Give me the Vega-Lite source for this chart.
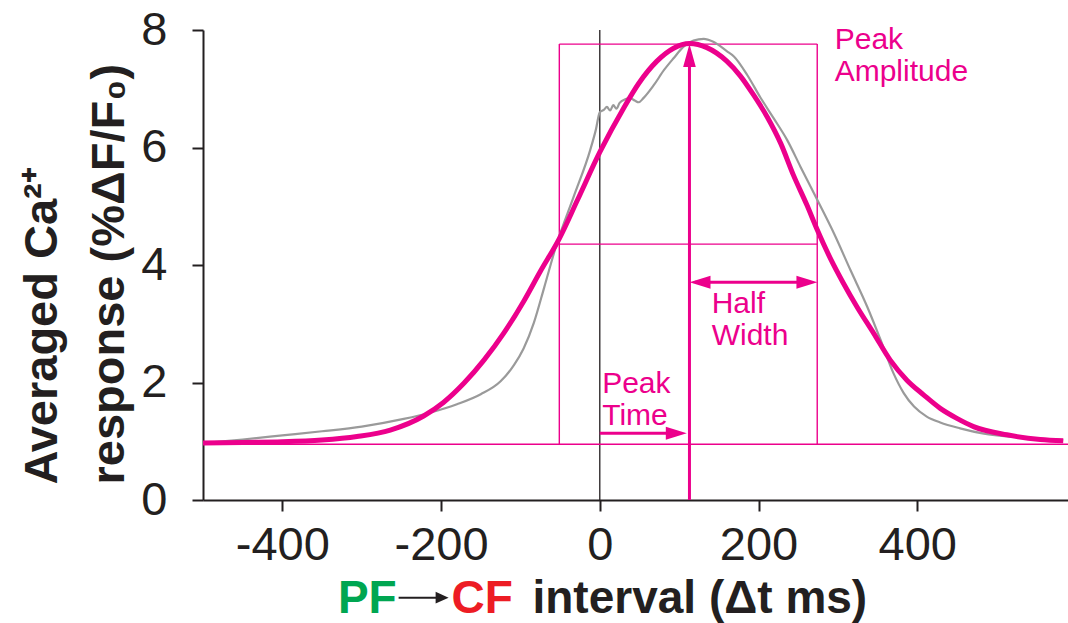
{
  "$schema": "https://vega.github.io/schema/vega-lite/v6.json",
  "width": 865,
  "height": 470,
  "autosize": {"type": "none"},
  "padding": {"left": 203, "top": 30, "right": 0, "bottom": 123},
  "background": "white",
  "config": {"view": {"stroke": null}, "font": "Liberation Sans"},
  "datasets": {
    "fit": [
      {"x": -500, "y": 0.97}, {"x": -450, "y": 0.98}, {"x": -400, "y": 0.99}, {"x": -350, "y": 1.02},
      {"x": -306, "y": 1.08}, {"x": -264, "y": 1.19}, {"x": -222, "y": 1.43}, {"x": -197, "y": 1.66},
      {"x": -171, "y": 1.99}, {"x": -146, "y": 2.38}, {"x": -121, "y": 2.84}, {"x": -96, "y": 3.38},
      {"x": -75, "y": 3.89}, {"x": -51, "y": 4.45}, {"x": -28, "y": 5.11}, {"x": 0, "y": 5.92},
      {"x": 30, "y": 6.67}, {"x": 49, "y": 7.09}, {"x": 72, "y": 7.47}, {"x": 93, "y": 7.69},
      {"x": 113, "y": 7.77}, {"x": 135, "y": 7.7}, {"x": 160, "y": 7.47}, {"x": 177, "y": 7.22},
      {"x": 194, "y": 6.89}, {"x": 211, "y": 6.52}, {"x": 228, "y": 6.07}, {"x": 244, "y": 5.53},
      {"x": 261, "y": 5.02}, {"x": 274, "y": 4.6}, {"x": 291, "y": 4.1}, {"x": 307, "y": 3.69},
      {"x": 324, "y": 3.29}, {"x": 345, "y": 2.84}, {"x": 366, "y": 2.38}, {"x": 387, "y": 2.04},
      {"x": 408, "y": 1.79}, {"x": 429, "y": 1.56}, {"x": 450, "y": 1.39}, {"x": 471, "y": 1.25},
      {"x": 513, "y": 1.11}, {"x": 555, "y": 1.03}, {"x": 584, "y": 1.01}
    ],
    "data": [
      {"x": -500, "y": 0.97}, {"x": -450, "y": 1.03}, {"x": -400, "y": 1.1}, {"x": -350, "y": 1.17},
      {"x": -300, "y": 1.25}, {"x": -247, "y": 1.38}, {"x": -213, "y": 1.49}, {"x": -180, "y": 1.63},
      {"x": -150, "y": 1.8}, {"x": -125, "y": 2.02}, {"x": -108, "y": 2.3}, {"x": -96, "y": 2.58},
      {"x": -83, "y": 3.02}, {"x": -70, "y": 3.62}, {"x": -54, "y": 4.37}, {"x": -33, "y": 5.16},
      {"x": -12, "y": 5.96}, {"x": -5, "y": 6.3}, {"x": 0, "y": 6.6}, {"x": 5, "y": 6.64},
      {"x": 9, "y": 6.69}, {"x": 13, "y": 6.63}, {"x": 17, "y": 6.72}, {"x": 21, "y": 6.66},
      {"x": 25, "y": 6.76}, {"x": 32, "y": 6.82}, {"x": 38, "y": 6.84}, {"x": 44, "y": 6.8},
      {"x": 49, "y": 6.77}, {"x": 55, "y": 6.84}, {"x": 68, "y": 7.06}, {"x": 81, "y": 7.32},
      {"x": 93, "y": 7.52}, {"x": 106, "y": 7.72}, {"x": 118, "y": 7.82}, {"x": 131, "y": 7.85},
      {"x": 143, "y": 7.8}, {"x": 160, "y": 7.64}, {"x": 169, "y": 7.55}, {"x": 186, "y": 7.23},
      {"x": 202, "y": 6.86}, {"x": 219, "y": 6.5}, {"x": 236, "y": 6.13}, {"x": 253, "y": 5.67},
      {"x": 274, "y": 5.11}, {"x": 295, "y": 4.54}, {"x": 316, "y": 3.91}, {"x": 337, "y": 3.29},
      {"x": 354, "y": 2.72}, {"x": 370, "y": 2.16}, {"x": 383, "y": 1.82}, {"x": 396, "y": 1.59},
      {"x": 412, "y": 1.42}, {"x": 429, "y": 1.32}, {"x": 454, "y": 1.22}, {"x": 484, "y": 1.13},
      {"x": 526, "y": 1.07}, {"x": 584, "y": 1.02}
    ],
    "thin": [
      {"x": -500, "x2": 590, "y": 0.95, "y2": 0.95},
      {"x": -51, "x2": 274, "y": 7.76, "y2": 7.76},
      {"x": -51, "x2": 274, "y": 4.355, "y2": 4.355},
      {"x": -51, "x2": -51, "y": 0.95, "y2": 7.76},
      {"x": 274, "x2": 274, "y": 0.95, "y2": 7.76}
    ],
    "zero": [{"x": 0, "x2": 0, "y": 0, "y2": 8}],
    "minor": [{"x": -300}, {"x": -100}, {"x": 100}, {"x": 300}, {"x": 500}],
    "shafts": [
      {"x": 113, "x2": 113, "y": 0, "y2": 7.45},
      {"x": 120, "x2": 266, "y": 3.705, "y2": 3.705},
      {"x": 0, "x2": 92, "y": 1.135, "y2": 1.135}
    ],
    "headUp": [{"x": 113, "y": 7.566}],
    "headRight": [{"x": 261, "y": 3.705}, {"x": 96.4, "y": 1.135}],
    "headLeft": [{"x": 126.3, "y": 3.705}],
    "notes": [
      {"x": 296, "y": 7.671, "text": "Peak\nAmplitude"},
      {"x": 141, "y": 3.178, "text": "Half\nWidth"},
      {"x": 3, "y": 1.826, "text": "Peak\nTime"}
    ],
    "tPF": [{"x": -330, "y": -1.923, "text": "PF"}],
    "tCF": [{"x": -186.8, "y": -1.923, "text": "CF"}],
    "tRest": [{"x": -84.8, "y": -1.923, "text": "interval (Δt ms)"}],
    "tArrow": [{"x": -253.5, "x2": -197, "y": -1.663, "y2": -1.663}],
    "tArrowHead": [{"x": -198.7, "y": -1.663}]
  },
  "encoding": {
    "x": {
      "field": "x", "type": "quantitative",
      "scale": {"domain": [-500, 590], "nice": false, "zero": false},
      "axis": {
        "title": null, "values": [-400, -200, 0, 200, 400], "grid": false,
        "labelExpr": "datum.value < 0 ? '-' + abs(datum.value) : '' + datum.value",
        "domainColor": "#231f20", "domainWidth": 2, "tickColor": "#231f20", "tickWidth": 2, "tickSize": 11,
        "labelFont": "Liberation Sans", "labelFontSize": 47, "labelColor": "#231f20", "labelPadding": 11,
        "labelFlush": false, "labelOverlap": false
      }
    },
    "y": {
      "field": "y", "type": "quantitative",
      "scale": {"domain": [0, 8], "nice": false, "zero": false},
      "axis": {
        "title": ["Averaged Ca²⁺", "response (%ΔF/F₀)"], "values": [0, 2, 4, 6, 8], "grid": false,
        "domainColor": "#231f20", "domainWidth": 2, "tickColor": "#231f20", "tickWidth": 2, "tickSize": 11,
        "labelFont": "Liberation Sans", "labelFontSize": 47, "labelColor": "#231f20", "labelPadding": 25,
        "labelFlush": false, "labelOverlap": false,
        "titleFont": "Liberation Sans", "titleFontSize": 47, "titleFontWeight": "bold", "titleColor": "#231f20",
        "titleLineHeight": 67, "titleAlign": "left", "titleBaseline": "bottom", "titleAngle": -90,
        "titleX": -137, "titleY": 454
      }
    }
  },
  "layer": [
    {"data": {"name": "zero"}, "mark": {"type": "rule", "color": "#231f20", "strokeWidth": 1.3},
     "encoding": {"x2": {"field": "x2"}, "y2": {"field": "y2"}}},
    {"data": {"name": "thin"}, "mark": {"type": "rule", "color": "#EC008C", "strokeWidth": 1.4},
     "encoding": {"x2": {"field": "x2"}, "y2": {"field": "y2"}}},
    {"data": {"name": "data"}, "mark": {"type": "line", "color": "#9a9a9a", "strokeWidth": 2.2, "interpolate": "monotone"},
     "encoding": {}},
    {"data": {"name": "fit"}, "mark": {"type": "line", "color": "#EC008C", "strokeWidth": 5, "interpolate": "monotone"},
     "encoding": {}},
    {"data": {"name": "shafts"}, "mark": {"type": "rule", "color": "#EC008C", "strokeWidth": 3},
     "encoding": {"x2": {"field": "x2"}, "y2": {"field": "y2"}}},
    {"data": {"name": "headUp"}, "mark": {"type": "point", "shape": "M0,-1L0.55,1L-0.55,1Z", "size": 529, "filled": true, "color": "#EC008C", "opacity": 1, "strokeWidth": 0}},
    {"data": {"name": "headRight"}, "mark": {"type": "point", "shape": "M1,0L-1,-0.62L-1,0.62Z", "size": 441, "filled": true, "color": "#EC008C", "opacity": 1, "strokeWidth": 0}},
    {"data": {"name": "headLeft"}, "mark": {"type": "point", "shape": "M-1,0L1,-0.62L1,0.62Z", "size": 441, "filled": true, "color": "#EC008C", "opacity": 1, "strokeWidth": 0}},
    {"data": {"name": "notes"}, "mark": {"type": "text", "align": "left", "baseline": "alphabetic", "font": "Liberation Sans", "fontSize": 30, "lineBreak": "\n", "lineHeight": 32, "color": "#EC008C"},
     "encoding": {"text": {"field": "text"}}},
    {"data": {"name": "minor"}, "mark": {"type": "rule", "color": "#231f20", "strokeWidth": 2},
     "encoding": {"y": {"datum": 0}, "y2": {"datum": -0.09}}},
    {"data": {"name": "tPF"}, "mark": {"type": "text", "align": "left", "baseline": "alphabetic", "font": "Liberation Sans", "fontWeight": "bold", "fontSize": 46, "color": "#00A651"},
     "encoding": {"text": {"field": "text"}}},
    {"data": {"name": "tCF"}, "mark": {"type": "text", "align": "left", "baseline": "alphabetic", "font": "Liberation Sans", "fontWeight": "bold", "fontSize": 46, "color": "#ED1C24"},
     "encoding": {"text": {"field": "text"}}},
    {"data": {"name": "tRest"}, "mark": {"type": "text", "align": "left", "baseline": "alphabetic", "font": "Liberation Sans", "fontWeight": "bold", "fontSize": 46, "color": "#231f20"},
     "encoding": {"text": {"field": "text"}}},
    {"data": {"name": "tArrow"}, "mark": {"type": "rule", "color": "#231f20", "strokeWidth": 2},
     "encoding": {"x2": {"field": "x2"}, "y2": {"field": "y2"}}},
    {"data": {"name": "tArrowHead"}, "mark": {"type": "point", "shape": "M1,0L-1,-0.9L-1,0.9Z", "size": 169, "filled": true, "color": "#231f20", "opacity": 1, "strokeWidth": 0}}
  ]
}
